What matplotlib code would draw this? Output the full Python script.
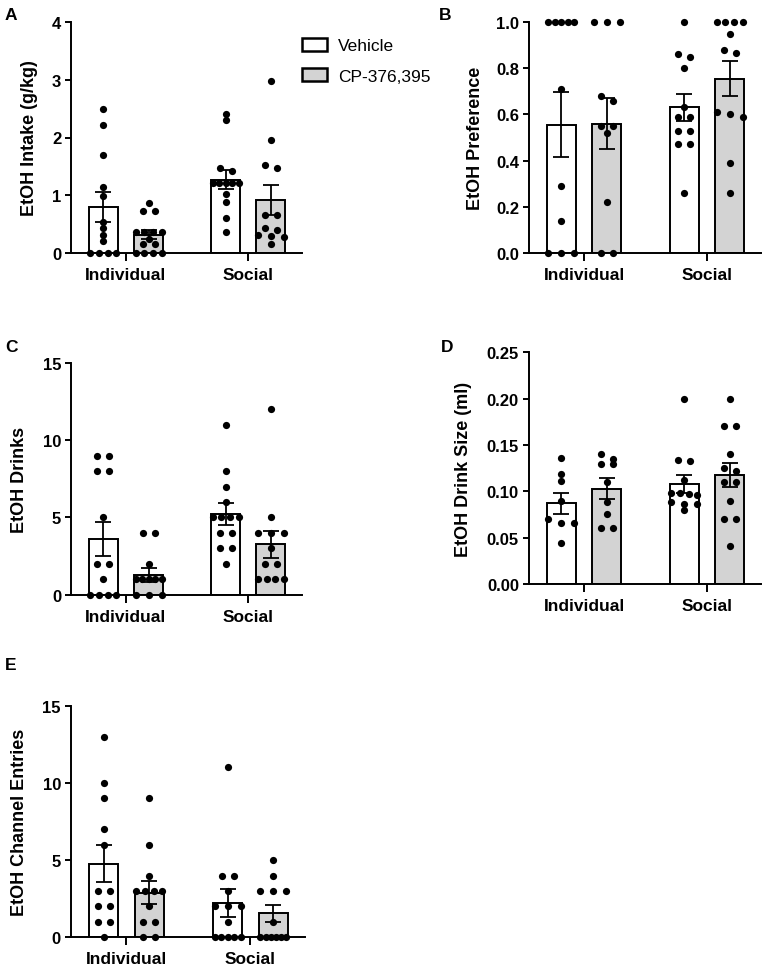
import numpy as np
import matplotlib
matplotlib.use("Agg")
import matplotlib.pyplot as plt
from matplotlib.patches import Patch

plt.rcParams['font.family'] = ['Liberation Sans', 'DejaVu Sans']
plt.rcParams['font.weight'] = 'bold'

# ---------------- data ----------------
groups = ["Individual", "Social"]
treatments = ["Vehicle", "CP-376,395"]
fills = ["#ffffff", "#d3d3d3"]

# A: EtOH intake (g/kg)
intake_ind_veh = [2.49, 2.22, 1.70, 1.15, 0.98, 0.53, 0.43, 0.31, 0.20, 0, 0, 0, 0]
intake_ind_cp = [0.86, 0.72, 0.72, 0.37, 0.37, 0.37, 0.37, 0.25, 0.15, 0.15, 0, 0, 0, 0]
intake_soc_veh = [2.40, 2.30, 1.48, 1.42, 1.22, 1.22, 1.22, 1.22, 1.22, 1.02, 0.88, 0.60, 0.37]
intake_soc_cp = [2.97, 1.95, 1.52, 1.47, 0.65, 0.65, 0.44, 0.40, 0.32, 0.30, 0.28, 0.16]
intake_mean = [0.80, 0.32, 1.27, 0.92]
intake_sem = [0.26, 0.08, 0.17, 0.255]
intake_ticks = [0, 1, 2, 3, 4]
intake_ticklabels = ["0", "1", "2", "3", "4"]

# B: EtOH preference
pref_ind_veh = [1, 1, 1, 1, 1, 0.71, 0.29, 0.14, 0, 0, 0]
pref_ind_cp = [1, 1, 1, 0.68, 0.66, 0.55, 0.55, 0.52, 0.22, 0, 0]
pref_soc_veh = [1.0, 0.86, 0.85, 0.80, 0.63, 0.59, 0.59, 0.53, 0.53, 0.47, 0.47, 0.26]
pref_soc_cp = [1, 1, 1, 1, 0.95, 0.88, 0.865, 0.61, 0.60, 0.59, 0.39, 0.26]
pref_mean = [0.555, 0.56, 0.63, 0.755]
pref_sem = [0.14, 0.11, 0.06, 0.075]
pref_ticks = [0, 0.2, 0.4, 0.6, 0.8, 1.0]
pref_ticklabels = ["0.0", "0.2", "0.4", "0.6", "0.8", "1.0"]

# C: EtOH drinks
drinks_ind_veh = [9, 9, 8, 8, 5, 2, 2, 1, 0, 0, 0, 0]
drinks_ind_cp = [4, 4, 2, 1, 1, 1, 1, 1, 0, 0, 0]
drinks_soc_veh = [11, 8, 7, 6, 5, 5, 5, 5, 4, 4, 3, 3, 2]
drinks_soc_cp = [12, 5, 4, 4, 4, 3, 2, 2, 1, 1, 1, 1]
drinks_mean = [3.6, 1.3, 5.22, 3.25]
drinks_sem = [1.1, 0.45, 0.7, 0.85]
drinks_ticks = [0, 5, 10, 15]
drinks_ticklabels = ["0", "5", "10", "15"]

# D: EtOH drink size (ml)
size_ind_veh = [0.136, 0.119, 0.111, 0.090, 0.070, 0.066, 0.066, 0.044]
size_ind_cp = [0.14, 0.135, 0.13, 0.13, 0.11, 0.088, 0.075, 0.06, 0.06]
size_soc_veh = [0.2, 0.134, 0.133, 0.112, 0.098, 0.098, 0.097, 0.096, 0.088, 0.086, 0.086, 0.08]
size_soc_cp = [0.2, 0.17, 0.17, 0.14, 0.125, 0.122, 0.11, 0.11, 0.09, 0.07, 0.07, 0.041]
size_mean = [0.087, 0.103, 0.108, 0.118]
size_sem = [0.011, 0.011, 0.0095, 0.013]
size_ticks = [0, 0.05, 0.10, 0.15, 0.20, 0.25]
size_ticklabels = ["0.00", "0.05", "0.10", "0.15", "0.20", "0.25"]

# E: EtOH channel entries
entries_ind_veh = [13, 10, 9, 7, 6, 3, 3, 2, 2, 1, 1, 0]
entries_ind_cp = [9, 6, 4, 3, 3, 3, 3, 2, 1, 1, 0, 0]
entries_soc_veh = [11, 4, 4, 3, 2, 2, 2, 1, 0, 0, 0, 0, 0]
entries_soc_cp = [5, 4, 3, 3, 3, 1, 0, 0, 0, 0, 0, 0]
entries_mean = [4.75, 2.9, 2.2, 1.55]
entries_sem = [1.2, 0.73, 0.9, 0.55]
entries_ticks = [0, 5, 10, 15]
entries_ticklabels = ["0", "5", "10", "15"]

# ---------------- layout ----------------
W, H = 766, 970
fig = plt.figure(figsize=(W / 100, H / 100), dpi=100)

XLIM = (-0.45, 1.44)
OFF = 0.185
BARW = 0.235
DOT_PT = 5.2
THR_PX = 5.0
PAIR_PX = 12.0
SPAN_PX = 26.0


def add_ax(x0, y_top, x1, y_bot):
    return fig.add_axes([x0 / W, 1 - y_bot / H, (x1 - x0) / W, (y_bot - y_top) / H])


def swarm(ax, values, center):
    pos = ax.get_position()
    ylo, yhi = ax.get_ylim()
    xlo, xhi = ax.get_xlim()
    ppy = pos.height * H / (yhi - ylo)
    ppx = pos.width * W / (xhi - xlo)
    vals = sorted(values, reverse=True)
    clusters = []
    for v in vals:
        if clusters and (clusters[-1][0] - v) * ppy < THR_PX:
            clusters[-1].append(v)
        else:
            clusters.append([v])
    xs, ys = [], []
    for c in clusters:
        n = len(c)
        if n == 1:
            offs = [0.0]
        elif n == 2:
            offs = [-PAIR_PX / 2, PAIR_PX / 2]
        else:
            offs = np.linspace(-SPAN_PX / 2, SPAN_PX / 2, n)
        for o, v in zip(offs, c):
            xs.append(center + o / ppx)
            ys.append(v)
    return xs, ys


panels = [
    dict(box=(71, 23, 302, 254), label="A", lab_xy=(11, 16), ylab="EtOH Intake (g/kg)", ylab_cx=30,
         pts=[intake_ind_veh, intake_ind_cp, intake_soc_veh, intake_soc_cp],
         mean=intake_mean, sem=intake_sem, ticks=intake_ticks, tl=intake_ticklabels),
    dict(box=(528.7, 23, 761, 254), label="B", lab_xy=(445, 16), ylab="EtOH Preference", ylab_cx=475,
         pts=[pref_ind_veh, pref_ind_cp, pref_soc_veh, pref_soc_cp],
         mean=pref_mean, sem=pref_sem, ticks=pref_ticks, tl=pref_ticklabels),
    dict(box=(71, 364, 302, 595.7), label="C", lab_xy=(11, 348), ylab="EtOH Drinks", ylab_cx=20,
         pts=[drinks_ind_veh, drinks_ind_cp, drinks_soc_veh, drinks_soc_cp],
         mean=drinks_mean, sem=drinks_sem, ticks=drinks_ticks, tl=drinks_ticklabels),
    dict(box=(528.7, 353.3, 761, 585), label="D", lab_xy=(447, 347), ylab="EtOH Drink Size (ml)", ylab_cx=464,
         pts=[size_ind_veh, size_ind_cp, size_soc_veh, size_soc_cp],
         mean=size_mean, sem=size_sem, ticks=size_ticks, tl=size_ticklabels),
    dict(box=(70.7, 706.7, 305, 938.3), label="E", lab_xy=(11, 665), ylab="EtOH Channel Entries", ylab_cx=20,
         pts=[entries_ind_veh, entries_ind_cp, entries_soc_veh, entries_soc_cp],
         mean=entries_mean, sem=entries_sem, ticks=entries_ticks, tl=entries_ticklabels),
]

for p in panels:
    x0, yt, x1, yb = p["box"]
    ax = add_ax(x0, yt, x1, yb)
    ax.set_xlim(*XLIM)
    ax.set_ylim(p["ticks"][0], p["ticks"][-1])
    k = 0
    for gi, g in enumerate(groups):
        for ti, t in enumerate(treatments):
            xc = gi + (-OFF if ti == 0 else OFF)
            ax.bar(xc, p["mean"][k], width=BARW, color=fills[ti], edgecolor="black",
                   linewidth=1.4, zorder=1)
            xs, ys = swarm(ax, p["pts"][k], xc)
            ax.scatter(xs, ys, s=DOT_PT ** 2, color="black", linewidths=0, zorder=3, clip_on=False)
            ax.errorbar(xc, p["mean"][k], yerr=p["sem"][k], fmt="none", ecolor="black",
                        elinewidth=1.3, capsize=5.8, capthick=1.3, zorder=4)
            k += 1
    for s in ["top", "right"]:
        ax.spines[s].set_visible(False)
    for s in ["left", "bottom"]:
        ax.spines[s].set_linewidth(1.4)
    ax.set_yticks(p["ticks"])
    ax.set_yticklabels(p["tl"])
    ax.set_xticks([0, 1])
    ax.set_xticklabels(groups)
    ax.tick_params(axis="y", direction="out", length=4.5, width=1.4, labelsize=12, pad=2.5)
    ax.tick_params(axis="x", direction="out", length=5.5, width=1.4, labelsize=12.5, pad=4.5)
    ax.set_ylabel(p["ylab"], fontsize=13, fontweight="bold")
    ax.yaxis.label.set_verticalalignment("center")
    wpx = x1 - x0
    ax.yaxis.set_label_coords(-(x0 - p["ylab_cx"]) / wpx, 0.5)
    fig.text(p["lab_xy"][0] / W, 1 - p["lab_xy"][1] / H, p["label"], fontsize=12.5,
             fontweight="bold", ha="center", va="center")

handles = [Patch(facecolor=fills[i], edgecolor="black", linewidth=1.8, label=treatments[i])
           for i in range(2)]
fig.legend(handles=handles, loc="upper left", bbox_to_anchor=(302 / W, 1 - 39 / H),
           frameon=False, borderpad=0, borderaxespad=0, handlelength=1.44, handleheight=0.75,
           handletextpad=0.63, labelspacing=0.85, prop={"weight": "normal", "size": 12.5})

fig.savefig("out.png", dpi=100)
